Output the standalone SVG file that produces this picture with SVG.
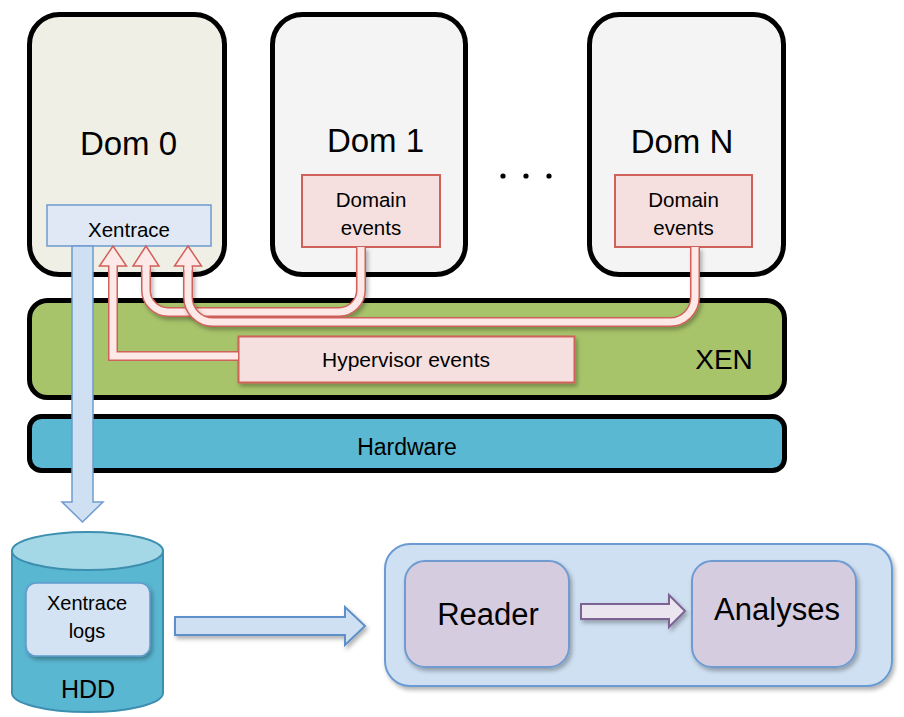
<svg xmlns="http://www.w3.org/2000/svg" width="904" height="717" viewBox="0 0 904 717">
<defs>
<filter id="sh" x="-10%" y="-10%" width="130%" height="140%">
<feDropShadow dx="2" dy="3" stdDeviation="2" flood-color="#000" flood-opacity="0.3"/>
</filter>
<style>
text{font-family:"Liberation Sans",Arial,sans-serif;fill:#000;text-anchor:middle}
.dom{stroke:#000;stroke-width:5}
.ev{fill:#f5e0df;stroke:#d0605a;stroke-width:2}
.red{fill:none;stroke:#d0605a;stroke-width:10;stroke-linejoin:miter}
.pink{fill:none;stroke:#fde9e7;stroke-width:7;stroke-linejoin:miter}
.head{fill:#fde9e7;stroke:#d0605a;stroke-width:1.5;stroke-linejoin:miter}
.blue{fill:#cfe0f2;stroke:#5e8fc8;stroke-width:2}
</style>
</defs>
<rect width="904" height="717" fill="#fff"/>

<g id="dom0">
<rect class="dom" x="29.5" y="14.5" width="195" height="260" rx="30" fill="#efefe6"/>
<text x="128.5" y="155" font-size="33">Dom 0</text>
</g>
<g id="dom1">
<rect class="dom" x="272.5" y="14.5" width="193" height="260" rx="30" fill="#f4f4f4"/>
<text x="375.5" y="152" font-size="33">Dom 1</text>
</g>
<g id="domN">
<rect class="dom" x="589.5" y="14.5" width="194" height="260" rx="30" fill="#f4f4f4"/>
<text x="682" y="153" font-size="33">Dom N</text>
</g>
<g id="dots" fill="#000">
<circle cx="503" cy="176" r="2.6"/>
<circle cx="526" cy="176" r="2.6"/>
<circle cx="549" cy="176" r="2.6"/>
</g>
<g id="xen">
<rect class="dom" x="29.5" y="300.5" width="755" height="97" rx="18" fill="#a8c46a"/>
<text x="724" y="369" font-size="28">XEN</text>
</g>
<g id="hardware">
<rect class="dom" x="29.5" y="416.5" width="755" height="54" rx="12" fill="#5bb8d2"/>
<text x="407" y="455" font-size="23">Hardware</text>
</g>
<g id="xentrace">
<rect x="47" y="205" width="164" height="41" fill="#dfe8f4" stroke="#6f9bd0" stroke-width="1.5"/>
<text x="129" y="237" font-size="20.5">Xentrace</text>
</g>
<g id="dom1-events">
<rect class="ev" x="302" y="175" width="138" height="72"/>
<text x="371" y="207" font-size="20.5">Domain</text>
<text x="371" y="235" font-size="20.5">events</text>
</g>
<g id="domN-events">
<rect class="ev" x="615" y="175" width="137" height="72"/>
<text x="683.5" y="207" font-size="20.5">Domain</text>
<text x="683.5" y="235" font-size="20.5">events</text>
</g>
<g id="hypervisor-events">
<rect class="ev" x="238.5" y="336.5" width="336" height="46" filter="url(#sh)"/>
<text x="406" y="367" font-size="21">Hypervisor events</text>
</g>

<g id="hdd">
<path d="M12,551 V693 A75.5,19 0 0 0 163,693 V551 Z" fill="#5ab7d1" stroke="#3d8fb0" stroke-width="2"/>
<ellipse cx="87.5" cy="551" rx="75.5" ry="19" fill="#a5d8e6" stroke="#3d8fb0" stroke-width="2"/>
<text x="88" y="698" font-size="25">HDD</text>
</g>
<g id="xentrace-logs">
<rect x="26" y="583" width="124" height="73" rx="10" fill="#d3e3f3" stroke="#5e9ad0" stroke-width="1.5" filter="url(#sh)"/>
<text x="87" y="610" font-size="20">Xentrace</text>
<text x="87" y="638" font-size="20">logs</text>
</g>
<g id="tools">
<rect x="385" y="544" width="507" height="142" rx="25" fill="#cfe0f2" stroke="#6a9bd2" stroke-width="2" filter="url(#sh)"/>
</g>
<g id="reader">
<rect x="405" y="561" width="164" height="106" rx="20" fill="#d6cce0" stroke="#6f9bd0" stroke-width="2" filter="url(#sh)"/>
<text x="488" y="625" font-size="31">Reader</text>
</g>
<g id="analyses">
<rect x="692" y="561" width="164" height="106" rx="20" fill="#d6cce0" stroke="#6f9bd0" stroke-width="2" filter="url(#sh)"/>
<text x="777" y="620" font-size="31">Analyses</text>
</g>

<g id="connectors">
<path d="M72,246 H93 V502 H103 L82.5,522 L62,502 H72 Z" fill="#cfe0f2" stroke="#6f9bd0" stroke-width="1.5"/>
<path class="red" d="M113,266 V356 H238"/>
<polygon class="head" points="113,246 126.5,266 99.5,266"/>
<path class="pink" d="M113,263 V356 H238"/>
<g filter="url(#sh)">
<path class="red" d="M146,266 V290 A22,22 0 0 0 168,312 H339 A22,22 0 0 0 361,290 V247"/>
<path class="pink" d="M146,266 V290 A22,22 0 0 0 168,312 H339 A22,22 0 0 0 361,290 V247"/>
</g>
<polygon class="head" points="146,246 159,266 133,266"/>
<path class="pink" d="M146,263 V270"/>
<g filter="url(#sh)">
<path class="red" d="M188,266 V297 A25,25 0 0 0 213,322 H670 A25,25 0 0 0 695,297 V247"/>
<path class="pink" d="M188,266 V297 A25,25 0 0 0 213,322 H670 A25,25 0 0 0 695,297 V247"/>
</g>
<polygon class="head" points="188,246 201.5,266 174.5,266"/>
<path class="pink" d="M188,263 V270"/>
<path class="blue" d="M175,617 H345 V607 L365,626 L345,645 V635 H175 Z" filter="url(#sh)"/>
<path d="M581,604 H669 V595 L685,611 L669,627 V619 H581 Z" fill="#ebe5f0" stroke="#7b6494" stroke-width="2" filter="url(#sh)"/>
</g>
</svg>
